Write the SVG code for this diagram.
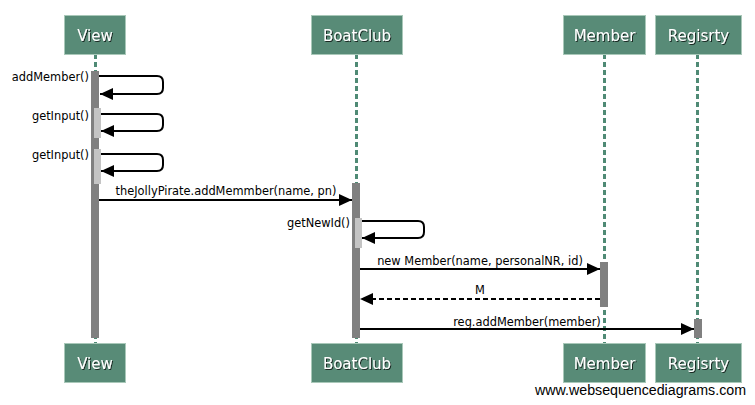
<svg xmlns="http://www.w3.org/2000/svg" width="755" height="405" viewBox="0 0 755 405">
<style>
.box{fill:#588b77;stroke:#a9c8b9;stroke-width:1}
.title{font-family:"DejaVu Sans",sans-serif;font-size:15px;fill:#fff;text-anchor:middle;filter:url(#sh)}
.life{stroke:#4f8a75;stroke-width:3;stroke-dasharray:5,3;fill:none}
.act{fill:#808080}
.act2{fill:#c4c4c4}
.lbl{font-family:"DejaVu Sans",sans-serif;font-size:11.4px;fill:#000}
.msg{stroke:#000;stroke-width:2;fill:none}
.dash{stroke-dasharray:5,3}
.wm{font-family:"Liberation Sans",Arial,sans-serif;font-size:14px;fill:#000}
</style>
<defs>
<filter id="sh" x="-20%" y="-20%" width="140%" height="140%">
<feDropShadow dx="1" dy="1" stdDeviation="0.6" flood-color="#000" flood-opacity="0.7"/>
</filter>
<marker id="ah" viewBox="0 0 13 12" refX="13" refY="6" markerWidth="13" markerHeight="12" markerUnits="userSpaceOnUse" orient="auto">
<path d="M0,0 L13,6 L0,12 Z" fill="#000"/>
</marker>
</defs>
<g id="lifelines">
<line class="life" x1="95.5" y1="54" x2="95.5" y2="343"/>
<line class="life" x1="356.5" y1="54" x2="356.5" y2="343"/>
<line class="life" x1="604.5" y1="54" x2="604.5" y2="343"/>
<line class="life" x1="697.5" y1="54" x2="697.5" y2="343"/>
</g>
<g id="View">
<rect class="box" x="64.5" y="15.5" width="61" height="39"/>
<text class="title" x="95" y="41">View</text>
<rect class="box" x="64.5" y="343.5" width="61" height="39"/>
<text class="title" x="95" y="369">View</text>
</g>
<g id="BoatClub">
<rect class="box" x="311.5" y="15.5" width="91" height="39"/>
<text class="title" x="357" y="41">BoatClub</text>
<rect class="box" x="311.5" y="343.5" width="91" height="39"/>
<text class="title" x="357" y="369">BoatClub</text>
</g>
<g id="Member">
<rect class="box" x="563.5" y="15.5" width="82" height="39"/>
<text class="title" x="604.5" y="41">Member</text>
<rect class="box" x="563.5" y="343.5" width="82" height="39"/>
<text class="title" x="604.5" y="369">Member</text>
</g>
<g id="Regisrty">
<rect class="box" x="655.5" y="15.5" width="86" height="39"/>
<text class="title" x="698.5" y="41">Regisrty</text>
<rect class="box" x="655.5" y="343.5" width="86" height="39"/>
<text class="title" x="698.5" y="369">Regisrty</text>
</g>
<g id="activations">
<rect class="act" x="91" y="71" width="8" height="267"/>
<rect class="act2" x="94" y="108" width="7" height="30"/>
<rect class="act2" x="94" y="149" width="7" height="35"/>
<rect class="act" x="352" y="183" width="8" height="155"/>
<rect class="act2" x="355" y="218" width="7" height="30"/>
<rect class="act" x="600" y="262" width="8" height="45"/>
<rect class="act" x="694" y="319" width="8" height="19"/>
</g>
<g id="connectors">
<path class="msg" d="M99,76 H157 Q163,76 163,82 V88 Q163,94 157,94 H100" marker-end="url(#ah)"/>
<path class="msg" d="M101,114 H157 Q163,114 163,120 V125 Q163,131 157,131 H101" marker-end="url(#ah)"/>
<path class="msg" d="M101,154 H157 Q163,154 163,160 V165 Q163,171 157,171 H101" marker-end="url(#ah)"/>
<line class="msg" x1="99" y1="200" x2="352" y2="200" marker-end="url(#ah)"/>
<path class="msg" d="M362,221 H418 Q424,221 424,227 V232 Q424,238 418,238 H362" marker-end="url(#ah)"/>
<line class="msg" x1="360" y1="269" x2="600" y2="269" marker-end="url(#ah)"/>
<line class="msg dash" x1="600" y1="299" x2="360" y2="299" marker-end="url(#ah)"/>
<line class="msg" x1="360" y1="329" x2="694" y2="329" marker-end="url(#ah)"/>
</g>
<g id="labels">
<text class="lbl" x="89" y="81" text-anchor="end">addMember()</text>
<text class="lbl" x="89" y="120" text-anchor="end">getInput()</text>
<text class="lbl" x="89" y="159" text-anchor="end">getInput()</text>
<text class="lbl" x="226" y="195" text-anchor="middle">theJollyPirate.addMemmber(name, pn)</text>
<text class="lbl" x="350" y="227" text-anchor="end">getNewId()</text>
<text class="lbl" x="480" y="265" text-anchor="middle">new Member(name, personalNR, id)</text>
<text class="lbl" x="480" y="294" text-anchor="middle">M</text>
<text class="lbl" x="527" y="326" text-anchor="middle">reg.addMember(member)</text>
</g>
<text class="wm" x="746" y="395" text-anchor="end" textLength="211" lengthAdjust="spacingAndGlyphs">www.websequencediagrams.com</text>
</svg>
